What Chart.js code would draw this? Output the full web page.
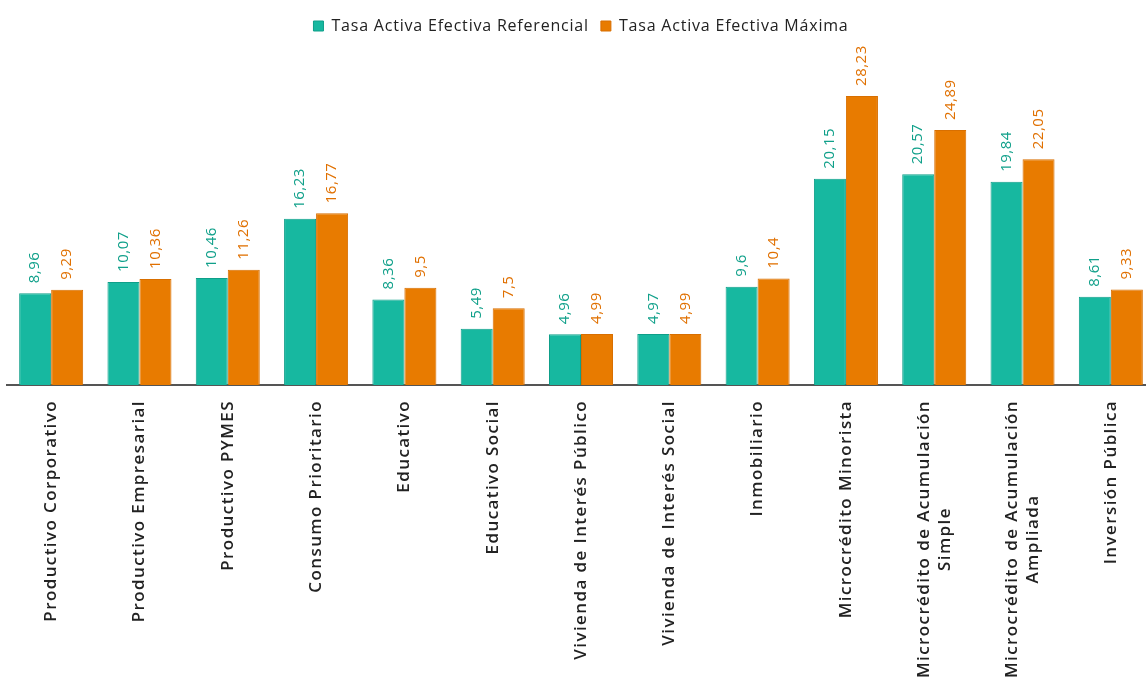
<!DOCTYPE html>
<html>
<head>
<meta charset="utf-8">
<script src="https://cdn.jsdelivr.net/npm/chart.js@4"></script>
<style>
  body { margin: 0; background: #fff; overflow: hidden; }
  #wrap { width: 1155px; height: 692px; }
</style>
</head>
<body>
<div id="wrap"><canvas id="myChart"></canvas></div>
<script>
// categories (multi-line ones as arrays)
let categories = [
    'Productivo Corporativo',
    'Productivo Empresarial',
    'Productivo PYMES',
    'Consumo Prioritario',
    'Educativo',
    'Educativo Social',
    'Vivienda de Interés Público',
    'Vivienda de Interés Social',
    'Inmobiliario',
    'Microcrédito Minorista',
    ['Microcrédito de Acumulación', 'Simple'],
    ['Microcrédito de Acumulación', 'Ampliada'],
    'Inversión Pública'
];
let referencial = [8.96, 10.07, 10.46, 16.23, 8.36, 5.49, 4.96, 4.97, 9.6, 20.15, 20.57, 19.84, 8.61];
let maxima = [9.29, 10.36, 11.26, 16.77, 9.5, 7.5, 4.99, 4.99, 10.4, 28.23, 24.89, 22.05, 9.33];

let teal = '#17b8a0';
let orange = '#e87b00';
let fontName = '"Open Sans", sans-serif';

// wider letters like the original font (legend is measured with this too)
const spacing = {
    id: 'spacing',
    beforeLayout(chart) { chart.ctx.letterSpacing = '0.8px'; },
    beforeDraw(chart) { chart.ctx.letterSpacing = '0.8px'; }
};

// vertical value labels above bars + rotated category labels
const barLabels = {
    id: 'barLabels',
    afterDatasetsDraw(chart) {
        let ctx = chart.ctx;
        let txtColors = ['#10a08a', '#e07000'];
        chart.data.datasets.forEach((ds, di) => {
            let meta = chart.getDatasetMeta(di);
            meta.data.forEach((bar, i) => {
                ctx.save();
                ctx.letterSpacing = '0.5px';
                ctx.translate(bar.x, bar.y - 10);
                ctx.rotate(-Math.PI / 2);
                ctx.font = '15px ' + fontName;
                ctx.fillStyle = txtColors[di];
                ctx.textAlign = 'left';
                ctx.textBaseline = 'middle';
                ctx.fillText(String(ds.data[i]).replace('.', ','), 0, 0);
                ctx.restore();
            });
        });

        let xs = chart.scales.x;
        let yBase = chart.chartArea.bottom + 15;
        categories.forEach((c, i) => {
            let lines = Array.isArray(c) ? c : [c];
            ctx.save();
            ctx.letterSpacing = '1.4px';
            ctx.font = '600 17px ' + fontName;
            let w = Math.max(...lines.map(l => ctx.measureText(l).width));
            ctx.translate(xs.getPixelForValue(i), yBase);
            ctx.rotate(-Math.PI / 2);
            ctx.fillStyle = '#222';
            ctx.textAlign = 'center';
            ctx.textBaseline = 'middle';
            lines.forEach((l, j) => {
                ctx.fillText(l, -w / 2, (j - (lines.length - 1) / 2) * 21);
            });
            ctx.restore();
        });
    }
};

myChart = new Chart(document.getElementById('myChart'), {
    type: 'bar',
    data: {
        labels: categories,
        datasets: [
        {
            label: 'Tasa Activa Efectiva Referencial',
            data: referencial,
            backgroundColor: teal,
            borderColor: '#0f9f89',
            borderWidth: 1,
        },
        {
            label: 'Tasa Activa Efectiva Máxima',
            data: maxima,
            backgroundColor: orange,
            borderColor: '#d86f00',
            borderWidth: 1,
        },
        ]
    },
    options: {
        responsive: true,
        maintainAspectRatio: false,
        animation: false,
        categoryPercentage: 0.725,
        barPercentage: 1.0,
        layout: { padding: { left: 7, right: 0, top: 6, bottom: 299 } },
        scales: {
            x: {
                grid: { display: false },
                border: { display: true, color: '#555', width: 2 },
                ticks: { display: false }
            },
            y: {
                display: false,
                min: 0,
                max: 33.3
            }
        },
        plugins: {
            legend: {
                labels: {
                    boxWidth: 10,
                    boxHeight: 10,
                    color: '#222',
                    padding: 12,
                    font: { family: fontName, size: 16 }
                }
            },
            tooltip: { enabled: false }
        }
    },
    plugins: [spacing, barLabels]
});
</script>
</body>
</html>
